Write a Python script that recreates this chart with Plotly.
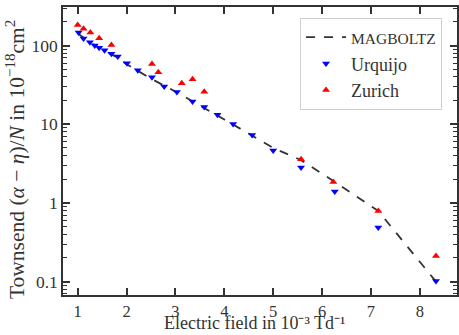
import plotly.graph_objects as go

# MAGBOLTZ simulation line
mag_x = [1.0, 1.25, 1.5, 1.75, 2.0, 2.5, 3.0, 3.5, 4.0, 4.5, 5.0, 5.57, 6.26, 7.15, 8.33]
mag_y = [143, 110, 90, 74, 58, 38, 26, 17.5, 11.5, 7.6, 5.0, 3.5, 1.85, 0.79, 0.10]

# Urquijo data
urq_x = [1.02, 1.12, 1.25, 1.35, 1.44, 1.55, 1.69, 1.82, 2.01, 2.23, 2.52, 2.77, 3.03, 3.35, 3.59, 3.86,
         4.18, 4.57, 5.0, 5.57, 6.26, 7.15, 8.33]
urq_y = [146, 123, 110, 100, 93.5, 87.4, 78.5, 72.5, 59.7, 48.6, 39.6, 30.1, 25.6, 19.5, 16.6, 13.2,
         10.1, 7.3, 4.63, 2.82, 1.40, 0.486, 0.102]

# Zurich data
zur_x = [1.0, 1.12, 1.26, 1.44, 1.69, 2.52, 2.65, 3.13, 3.35, 3.59, 5.57, 6.23, 7.15, 8.33]
zur_y = [183, 163, 146, 124, 102, 58.5, 45.9, 33.3, 37.4, 25.8, 3.6, 1.84, 0.787, 0.211]

y_tickvals = [0.1, 1, 10, 100]
y_ticktext = ["0.1", "1", "10", "100"]
x_tickvals = [1, 2, 3, 4, 5, 6, 7, 8]

x_title = "Electric field in 10⁻³ Td⁻¹"
y_title = "Townsend (<i>α</i> − <i>η</i>)/<i>N</i> in 10<sup>−18</sup>cm<sup>2</sup>"

minor_vals = [m * 10 ** e for e in range(-2, 3) for m in range(2, 10)]

FONT = "Liberation Serif"
TXT = "#333333"

fig = go.Figure()
fig.add_trace(go.Scatter(
    x=mag_x, y=mag_y, mode="lines",
    line=dict(color="#333333", dash="dash", width=1.8),
    name="<span style='font-size:15.5px'>MAGBOLTZ</span>",
))
fig.add_trace(go.Scatter(
    x=urq_x, y=urq_y, mode="markers",
    marker=dict(symbol="triangle-down", color="#0000ff", size=7),
    name="Urquijo",
))
fig.add_trace(go.Scatter(
    x=zur_x, y=zur_y, mode="markers",
    marker=dict(symbol="triangle-up", color="#ff0000", size=7),
    name="Zurich",
))

axis_common = dict(
    showline=True, linecolor="#333333", linewidth=1.5, mirror="allticks",
    ticks="inside", tickcolor="#333333", tickwidth=1.5, ticklen=7,
    showgrid=False, zeroline=False,
)

fig.update_layout(
    width=459, height=335,
    margin=dict(l=63, r=2, t=7, b=40, autoexpand=False),
    paper_bgcolor="white", plot_bgcolor="white",
    font=dict(family=FONT, color=TXT),
    showlegend=True,
    legend=dict(
        x=0.962, y=0.962, xanchor="right", yanchor="top",
        bgcolor="white", bordercolor="#d0d0d0", borderwidth=1,
        font=dict(family=FONT, size=18, color=TXT),
        itemwidth=40,
    ),
    xaxis=dict(
        **axis_common,
        range=[0.7, 8.76],
        tickvals=x_tickvals,
        tickfont=dict(family=FONT, size=16.5, color=TXT),
    ),
    yaxis=dict(
        **axis_common,
        type="log",
        range=[-1.17, 2.49],
        tickvals=y_tickvals,
        ticktext=y_ticktext,
        tickfont=dict(family=FONT, size=17.5, color=TXT),
        minor=dict(tickvals=minor_vals, ticks="inside", ticklen=4,
                   tickcolor="#333333", tickwidth=1.2),
    ),
    annotations=[
        dict(text=x_title, xref="paper", yref="paper", x=0.487, y=-0.139,
             xanchor="center", yanchor="bottom", showarrow=False,
             font=dict(family=FONT, size=18, color=TXT)),
        dict(text=y_title, xref="paper", yref="paper", x=-0.119, y=0.469,
             xanchor="center", yanchor="middle", textangle=-90, showarrow=False,
             font=dict(family=FONT, size=21.5, color=TXT)),
    ],
)

fig.write_html("out.html")
